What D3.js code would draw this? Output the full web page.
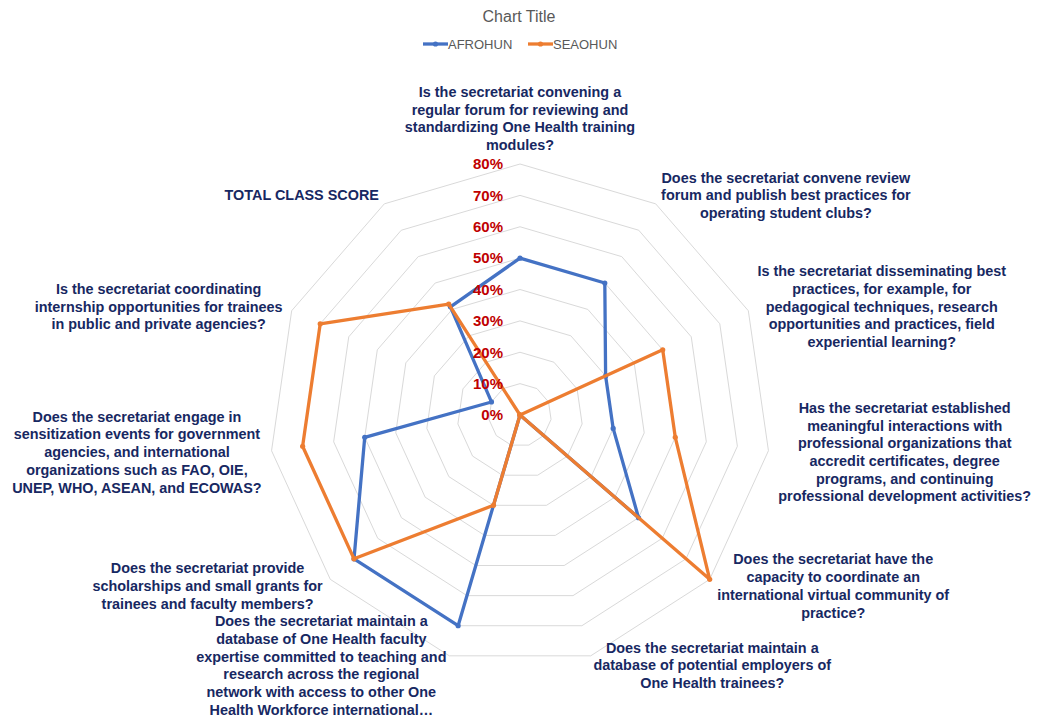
<!DOCTYPE html>
<html>
<head>
<meta charset="utf-8">
<script src="https://cdn.jsdelivr.net/npm/d3@7"></script>
<style>
  body { margin: 0; background: #fff; }
  svg { display: block; font-family: "Liberation Sans", Arial, Helvetica, sans-serif; }
</style>
</head>
<body>
<div id="graph"></div>
<script>
// axis labels, clockwise from the top; '|' marks a line break
var categories = [
  'Is the secretariat convening a|regular forum for reviewing and|standardizing One Health training|modules?',
  'Does the secretariat convene review|forum and publish best practices for|operating student clubs?',
  'Is the secretariat disseminating best|practices, for example, for|pedagogical techniques, research|opportunities and practices, field|experiential learning?',
  'Has the secretariat established|meaningful interactions with|professional organizations that|accredit certificates, degree|programs, and continuing|professional development activities?',
  'Does the secretariat have the|capacity to coordinate an|international virtual community of|practice?',
  'Does the secretariat maintain a|database of potential employers of|One Health trainees?',
  'Does the secretariat maintain a|database of One Health faculty|expertise committed to teaching and|research across the regional|network with access to other One|Health Workforce international…',
  'Does the secretariat provide|scholarships and small grants for|trainees and faculty members?',
  'Does the secretariat engage in|sensitization events for government|agencies, and international|organizations such as FAO, OIE,|UNEP, WHO, ASEAN, and ECOWAS?',
  'Is the secretariat coordinating|internship opportunities for trainees|in public and private agencies?',
  'TOTAL CLASS SCORE'
]

var seriesNames = ['AFROHUN', 'SEAOHUN']
var afrohun = [50, 50, 30, 30, 50, 0, 70, 70, 50, 10, 41]
var seaohun = [0, 0, 50, 50, 80, 0, 30, 70, 70, 70, 42]
var ticks = [0, 10, 20, 30, 40, 50, 60, 70, 80]

var colors = ['#4472C4', '#ED7D31']
var width = 1042, height = 724
var cx = 520, cy = 415

var r = d3.scaleLinear().domain([0, 80]).range([0, 251])
var angle = d3.scaleLinear().domain([0, categories.length]).range([0, 2 * Math.PI])

function pt(i, v){
  var a = angle(i)
  return [cx + r(v) * Math.sin(a), cy - r(v) * Math.cos(a)]
}

var svg = d3.select('#graph').append('svg')
  .attr('width', width).attr('height', height)

// grid rings
var ring = d3.line().curve(d3.curveLinearClosed)
svg.append('g').selectAll('path')
  .data(ticks.filter(d => d > 0))
  .join('path')
  .attr('d', t => ring(categories.map((c, i) => pt(i, t))))
  .attr('fill', 'none').attr('stroke', '#D9D9D9').attr('stroke-width', 1)

// series
var series = [afrohun, seaohun]
var gS = svg.append('g')
series.forEach(function(vals, k){
  gS.append('path')
    .attr('d', ring(vals.map((v, i) => pt(i, v))))
    .attr('fill', 'none').attr('stroke', colors[k])
    .attr('stroke-width', 3.3).attr('stroke-linejoin', 'round')
  gS.append('g').selectAll('circle')
    .data(vals)
    .join('circle')
    .attr('cx', (v, i) => pt(i, v)[0])
    .attr('cy', (v, i) => pt(i, v)[1])
    .attr('r', 2.6).attr('fill', colors[k])
})

// radial tick labels
svg.append('g').selectAll('text')
  .data(ticks)
  .join('text')
  .attr('x', cx - 17)
  .attr('y', t => cy - r(t) + 5.3)
  .attr('text-anchor', 'end')
  .attr('font-size', 15).attr('font-weight', 'bold')
  .attr('fill', '#C00000')
  .text(t => t + '%')

// category labels
var fs = 14.4, lh = 17.7, gap = 10
var gL = svg.append('g')
categories.forEach(function(c, i){
  var lines = c.split('|')
  var a = angle(i), s = Math.sin(a), co = Math.cos(a)
  var ax = cx + (r(80) + gap) * s, ay = cy - (r(80) + gap) * co
  var t = gL.append('text')
    .attr('font-size', fs).attr('font-weight', 'bold')
    .attr('fill', '#172862').attr('text-anchor', 'middle')
  var spans = lines.map(l => t.append('tspan').text(l))
  var w = d3.max(spans, sp => sp.node().getComputedTextLength())
  var bh = lines.length * lh
  var mx = Math.abs(s) < 0.1 ? ax : (s > 0 ? ax + w / 2 : ax - w / 2)
  var top = co > 0.99 ? ay - bh : ay - bh / 2
  spans.forEach(function(sp, j){
    sp.attr('x', mx).attr('y', top + lh * (j + 0.5) + fs * 0.35)
  })
})

// title
svg.append('text')
  .attr('x', 519).attr('y', 22)
  .attr('text-anchor', 'middle').attr('font-size', 16)
  .attr('fill', '#595959')
  .text('Chart Title')

// legend
var legend = svg.append('g').attr('transform', 'translate(423,44)')
var lx = [0, 105]
seriesNames.forEach(function(name, k){
  var g = legend.append('g').attr('transform', 'translate(' + lx[k] + ',0)')
  g.append('line').attr('x1', 0).attr('x2', 25).attr('y1', 0).attr('y2', 0)
    .attr('stroke', colors[k]).attr('stroke-width', 3.3)
  g.append('circle').attr('cx', 12.5).attr('cy', 0).attr('r', 2.6).attr('fill', colors[k])
  g.append('text').attr('x', 25).attr('y', 4.6)
    .attr('font-size', 13).attr('fill', '#595959')
    .text(name)
})
</script>
</body>
</html>
